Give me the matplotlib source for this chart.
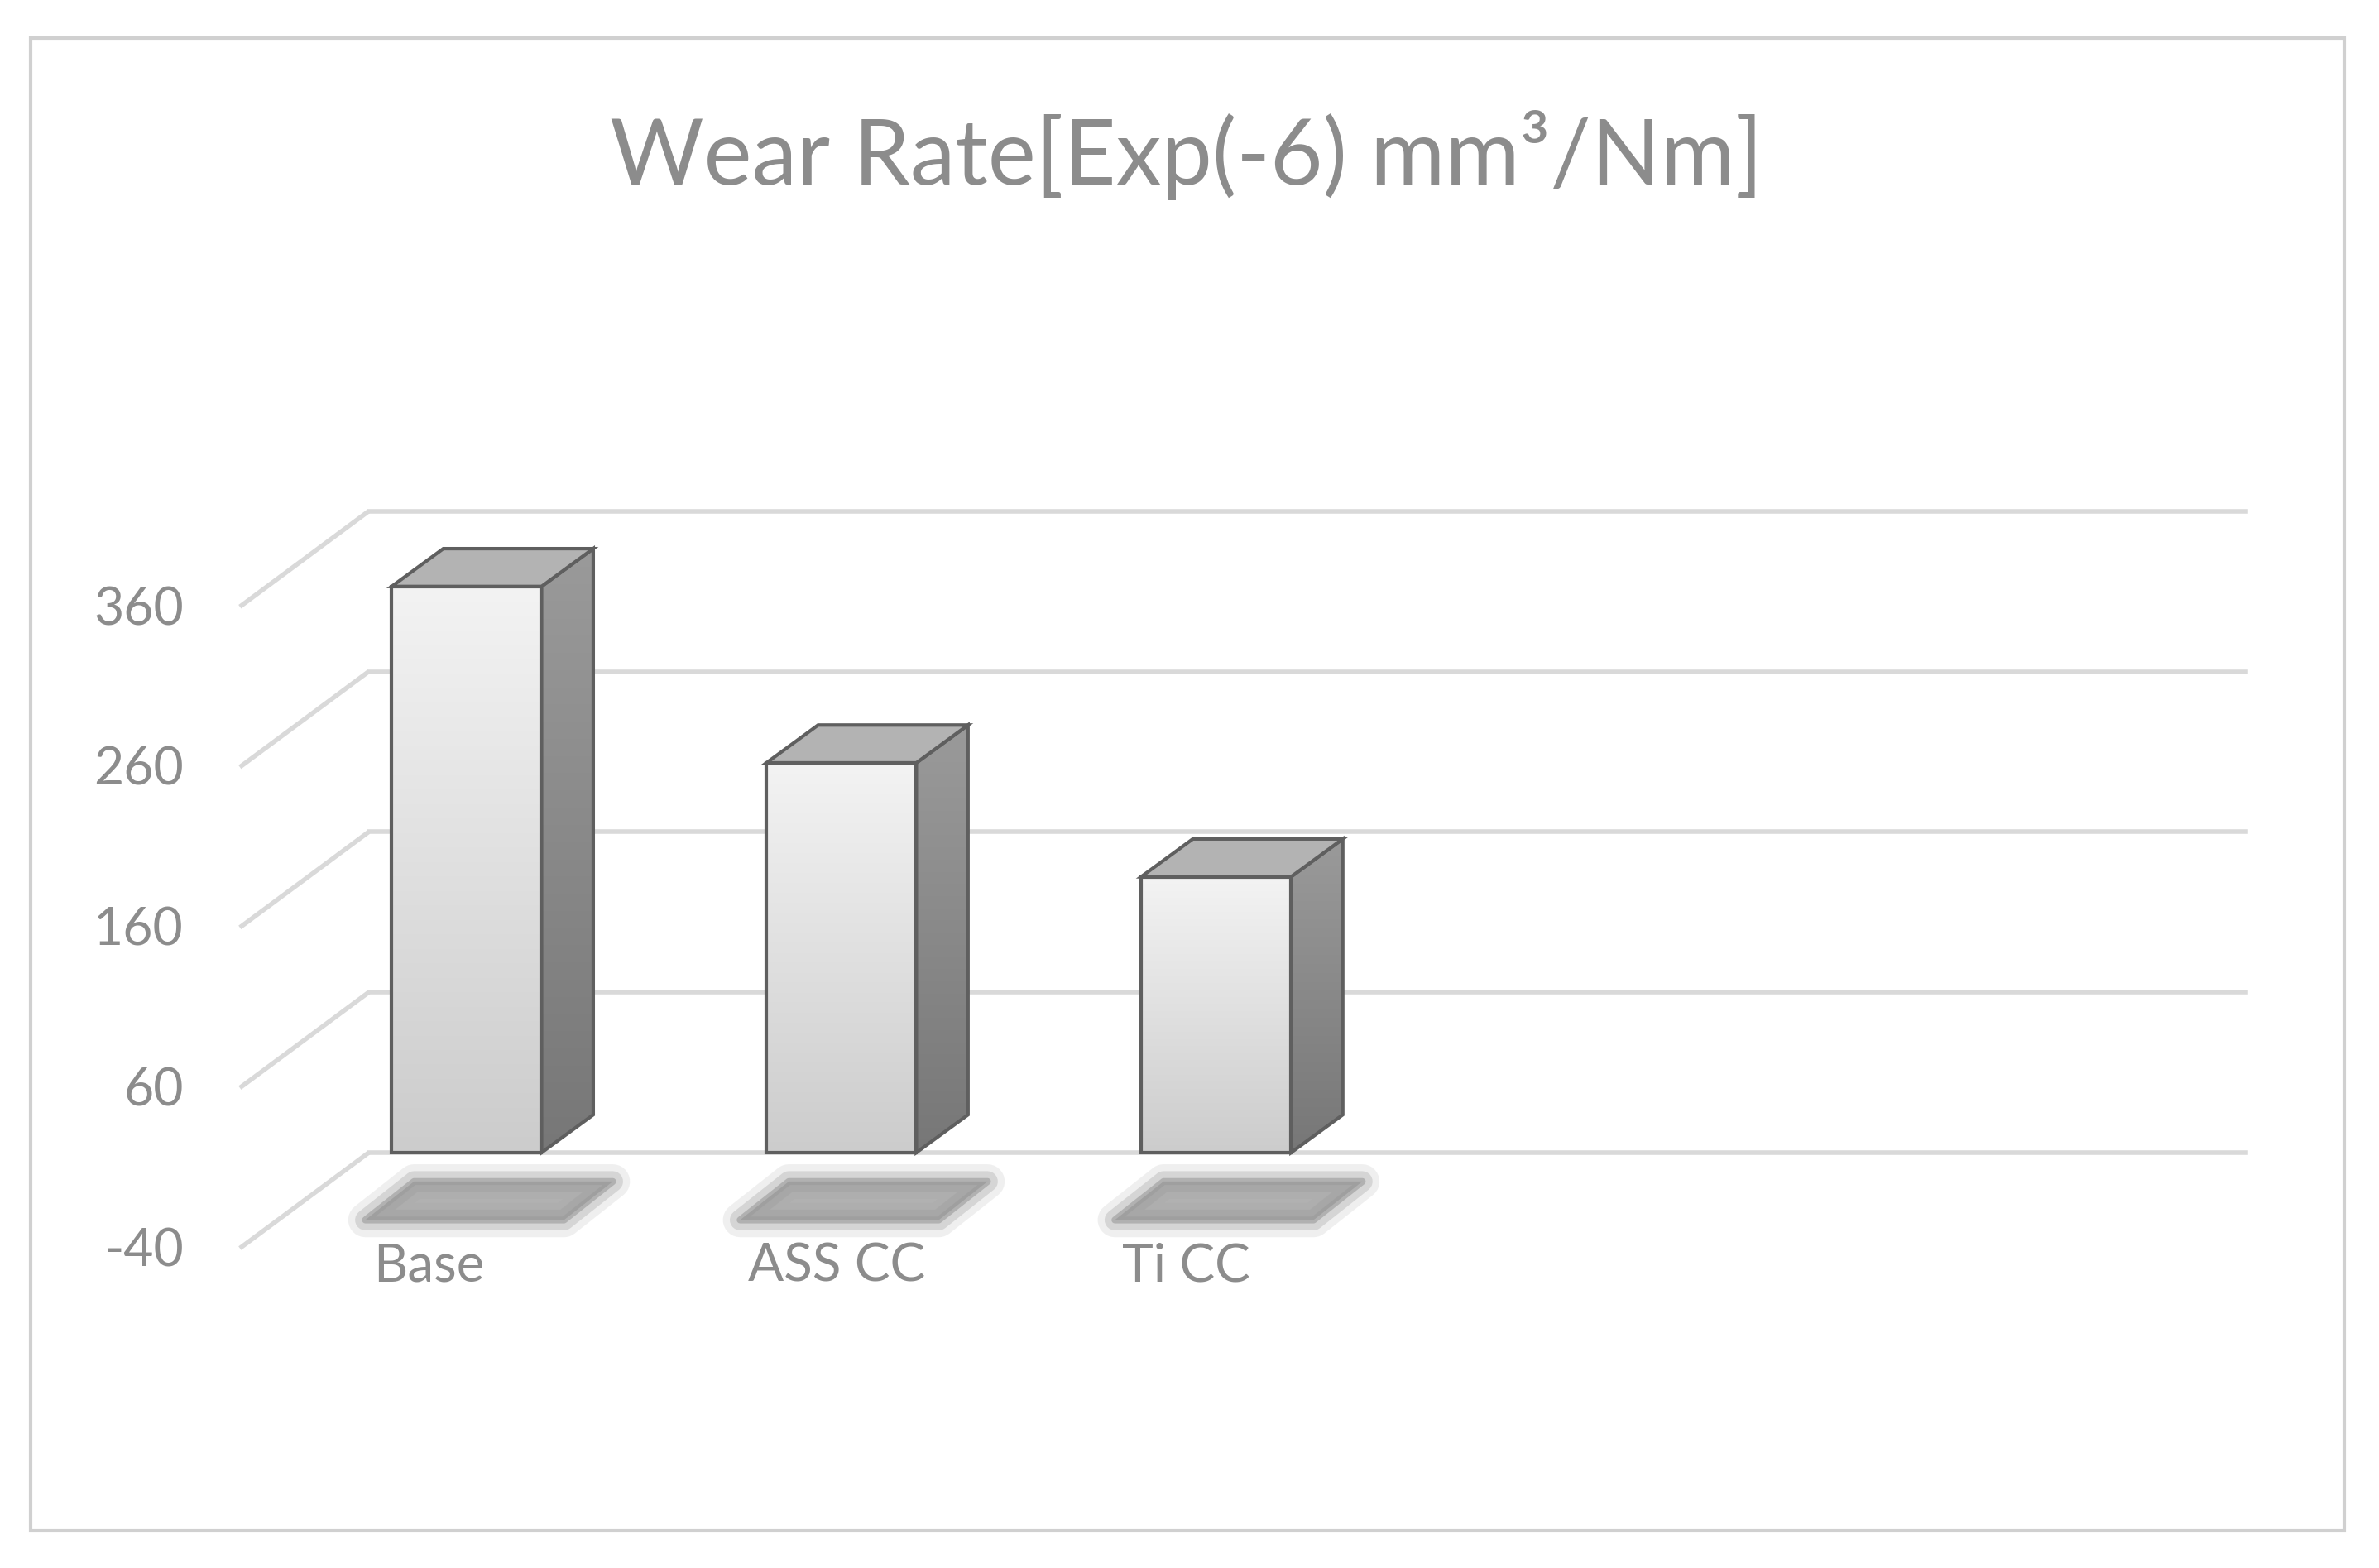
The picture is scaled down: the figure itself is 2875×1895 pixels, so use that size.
import numpy as np
import matplotlib
matplotlib.use("Agg")
import matplotlib.pyplot as plt
from matplotlib.patches import Polygon, Rectangle
from matplotlib.colors import LinearSegmentedColormap

categories = ["Base", "ASS CC", "Ti CC"]
values = [313, 203, 132]
ticks = [-40, 60, 160, 260, 360]
title = "Wear Rate[Exp(-6) mm³/Nm]"

plt.rcParams['font.family'] = ['Lato', 'DejaVu Sans']
fig = plt.figure(figsize=(28.75, 18.95), dpi=100)
ax = fig.add_axes([0, 0, 1, 1])
ax.set_xlim(-1.245, 5.103)
ax.set_ylim(-299, 678.7)
ax.axis('off')

base = ticks[0]
w = 0.4
ddx, ddy = 0.138, 23.6          # bar depth offset
gdx, gdy = 0.344, 59.6          # floor diagonal offset
xb0, xb1 = -0.261, 4.747
grid_c = '#d9d9d9'

# outer border
ax.add_patch(Rectangle((-1.164, -276), 6.174, 931, fill=False, ec='#d0d0d0', lw=3))

for t in ticks:
    ax.plot([xb0 - gdx, xb0], [t - gdy, t], color=grid_c, lw=4, solid_capstyle='butt')
    ax.plot([xb0, xb1], [t, t], color=grid_c, lw=4)
    ax.text(xb0 - gdx - 0.15, t - gdy - 2, str(t), ha='right', va='center',
            fontsize=45, color='#8c8c8c')

front_cmap = LinearSegmentedColormap.from_list('f', ['#cccccc', '#f3f3f3'])
side_cmap = LinearSegmentedColormap.from_list('s', ['#777777', '#9a9a9a'])
grad = np.linspace(0, 1, 256).reshape(-1, 1)
for i, (c, v) in enumerate(zip(categories, values)):
    x0, x1 = i - w / 2, i + w / 2
    # soft shadow
    for k, (lw, a) in enumerate([(30, 0.15), (18, 0.3), (6, 0.6)]):
        ax.add_patch(Polygon([[i - 0.27, -82], [i + 0.26, -82], [i + 0.39, -58], [i - 0.14, -58]],
                             closed=True, fc='#9a9a9a', ec='#9a9a9a', lw=lw, alpha=a,
                             joinstyle='round', zorder=2))
    # side
    side = Polygon([[x1, base], [x1 + ddx, base + ddy], [x1 + ddx, v + ddy], [x1, v]],
                   fc='none', ec='#5f5f5f', lw=3, zorder=5)
    ax.add_patch(side)
    ims = ax.imshow(grad, extent=[x1, x1 + ddx, base, v + ddy], aspect='auto', cmap=side_cmap,
                    zorder=4, origin='lower')
    ims.set_clip_path(side)
    # top
    ax.add_patch(Polygon([[x0, v], [x1, v], [x1 + ddx, v + ddy], [x0 + ddx, v + ddy]],
                         fc='#b3b3b3', ec='#5f5f5f', lw=3, zorder=5))
    # front with gradient
    bars = ax.bar(i, v - base, bottom=base, width=w, fc='none', ec='#5f5f5f', lw=3, zorder=6)
    im = ax.imshow(grad, extent=[x0, x1, base, v], aspect='auto', cmap=front_cmap,
                   zorder=4, origin='lower')
    im.set_clip_path(bars[0])
    ax.text(i - 0.25, -111, c, ha='left', va='center', fontsize=46, color='#8c8c8c', zorder=6)

ax.text(1.92, 582, title, ha='center', va='center', fontsize=79, color='#8c8c8c')

fig.savefig('out.png', dpi=100)
